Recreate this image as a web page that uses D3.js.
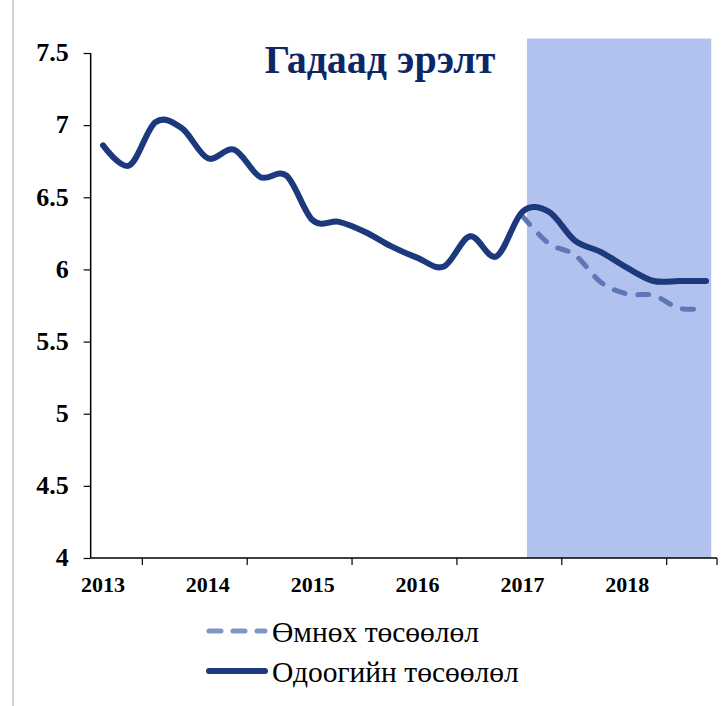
<!DOCTYPE html>
<html>
<head>
<meta charset="utf-8">
<script src="https://cdn.jsdelivr.net/npm/d3@7"></script>
<style>
  body { margin: 0; background: #fff; }
  text { font-family: "Liberation Serif", "Times New Roman", serif; }
</style>
</head>
<body>
<script>
const WIDTH = 726
const HEIGHT = 706

// quarterly data, 2013Q1 .. 2018Q4
const years = ["2013", "2014", "2015", "2016", "2017", "2018"]
const yTicks = [4, 4.5, 5, 5.5, 6, 6.5, 7, 7.5]
const current = [6.86, 6.72, 7.02, 6.98, 6.77, 6.83, 6.64, 6.65, 6.34, 6.33, 6.26, 6.16,
                 6.08, 6.02, 6.23, 6.09, 6.40, 6.40, 6.20, 6.12, 6.01, 5.92, 5.92, 5.92]
const previousStart = 16
const previous = [6.37, 6.18, 6.10, 5.91, 5.83, 5.82, 5.73, 5.73]
const forecastBand = [16.17, 23.2]  // shaded forecast period (in quarter index)
const title = "Гадаад эрэлт"
const legendLabels = ["Өмнөх төсөөлөл", "Одоогийн төсөөлөл"]

const navy = "#1b397c"
const dashBlue = "#5f77b8"

const svg = d3.select("body")
    .append("svg")
    .attr("width", WIDTH)
    .attr("height", HEIGHT)

// frame line on the left
svg.append("line")
    .attr("x1", 13).attr("x2", 13)
    .attr("y1", 0).attr("y2", HEIGHT)
    .attr("stroke", "#c4c4c4")
    .attr("stroke-width", 1.5)

const x = d3.scaleLinear().domain([0, 23]).range([103, 706])
const y = d3.scaleLinear().domain([4, 7.5]).range([558, 53])

// shaded forecast area
svg.append("rect")
    .attr("x", x(forecastBand[0]))
    .attr("y", y(7.6))
    .attr("width", x(forecastBand[1]) - x(forecastBand[0]))
    .attr("height", y(4) - y(7.6))
    .attr("fill", "#b2c2ee")

// y axis
const yAxis = svg.append("g")
    .attr("transform", `translate(${x(-0.47)},0)`)
    .call(d3.axisLeft(y).tickValues(yTicks).tickSize(7).tickFormat(d3.format("")))
yAxis.select(".domain").attr("stroke", "#000").attr("stroke-width", 1.5).attr("d", `M0,${y(4)}V${y(7.5)}`)
yAxis.selectAll(".tick line").attr("stroke", "#000").attr("stroke-width", 1.2)
yAxis.selectAll(".tick text")
    .attr("x", -22)
    .attr("dy", "0.3em")
    .attr("fill", "#000")
    .style("font-size", "26px")
    .style("font-weight", "bold")
    .style("font-family", "Liberation Serif")

// x axis: ticks in the middle of each year, labels at Q1
const xAxisG = svg.append("g").attr("transform", `translate(0,${y(4)})`)
xAxisG.append("line")
    .attr("x1", x(-0.47)).attr("x2", x(23.42))
    .attr("stroke", "#000").attr("stroke-width", 1.5)
const tickPos = years.map((d, i) => i * 4 + 1.5).concat([23.42])
xAxisG.selectAll(".xt")
    .data(tickPos)
    .enter()
    .append("line")
    .attr("x1", d => x(d)).attr("x2", d => x(d))
    .attr("y1", 0).attr("y2", 7)
    .attr("stroke", "#000").attr("stroke-width", 1.2)
xAxisG.selectAll(".xl")
    .data(years)
    .enter()
    .append("text")
    .text(d => d)
    .attr("x", (d, i) => x(i * 4))
    .attr("y", 34)
    .attr("text-anchor", "middle")
    .style("font-size", "22px")
    .style("font-weight", "bold")

// lines
const line = d3.line()
    .x(d => x(d.i))
    .y(d => y(d.v))
    .curve(d3.curveCardinal.tension(0))

svg.append("path")
    .datum(previous.map((v, k) => ({ i: previousStart + k, v })))
    .attr("d", line)
    .attr("fill", "none")
    .attr("stroke", dashBlue)
    .attr("stroke-width", 5)
    .attr("stroke-linecap", "round")
    .attr("stroke-dasharray", "11,13")

svg.append("path")
    .datum(current.map((v, i) => ({ i, v })))
    .attr("d", line)
    .attr("fill", "none")
    .attr("stroke", navy)
    .attr("stroke-width", 6)
    .attr("stroke-linecap", "round")
    .attr("stroke-linejoin", "round")

// title
svg.append("text")
    .text(title)
    .attr("x", 380)
    .attr("y", 73)
    .attr("text-anchor", "middle")
    .attr("fill", "#0d2766")
    .style("font-size", "40px")
    .style("font-weight", "bold")

// legend
const legend = svg.append("g")
legendLabels.forEach((lab, k) => {
    const ly = 631 + k * 40
    legend.append("line")
        .attr("x1", 209).attr("x2", 265)
        .attr("y1", ly).attr("y2", ly)
        .attr("stroke", k === 0 ? "#8096c9" : navy)
        .attr("stroke-width", k === 0 ? 5 : 6)
        .attr("stroke-linecap", "round")
        .attr("stroke-dasharray", k === 0 ? "12,12" : null)
    legend.append("text")
        .text(lab)
        .attr("x", 272)
        .attr("y", ly + 11)
        .style("font-size", "29.5px")
        .attr("fill", "#000")
})
</script>
</body>
</html>
